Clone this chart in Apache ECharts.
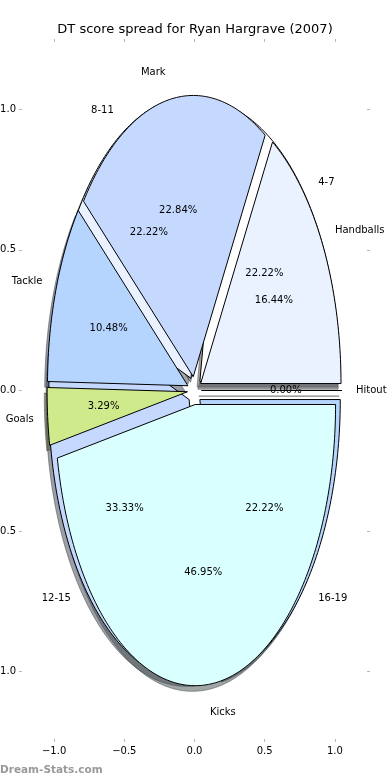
<!DOCTYPE html>
<html><head><meta charset="utf-8">
<script src="https://cdn.jsdelivr.net/npm/echarts@6/dist/echarts.min.js"></script>
<style>html,body{margin:0;padding:0;background:#fff}#c{width:390px;height:780px}</style>
</head><body><div id="c"></div>
<script>
// ---- data ----
const titleText = 'DT score spread for Ryan Hargrave (2007)';
const statCategories = ['Hitout', 'Handballs', 'Mark', 'Tackle', 'Goals', 'Kicks'];
const statValues = [0.00, 16.44, 22.84, 10.48, 3.29, 46.95];
const rangeCategories = ['4-7', '8-11', '12-15', '16-19'];
const rangeValues = [2, 2, 3, 2];
const tickValues = [-1.0, -0.5, 0.0, 0.5, 1.0];
const watermark = 'Dream-Stats.com';

// ---- style ----
const palette = ['#ffffff', '#eaf1ff', '#c5d9ff', '#b5d5ff', '#cfea8b', '#d9ffff'];
const EXPLODE = 0.05, LABEL_DIST = 1.1, PCT_DIST = 0.6, SHADOW_OFF = -0.02;
const FONT = '"DejaVu Sans", sans-serif';

function buildWedges(cats, vals) {
  const total = vals.reduce((a, b) => a + b, 0);
  let acc = 0;
  return cats.map((c, i) => {
    const f = vals[i] / total;
    const a1 = acc * 2 * Math.PI; acc += f; const a2 = acc * 2 * Math.PI;
    const m = (a1 + a2) / 2;
    return { name: c, pct: (f * 100).toFixed(2) + '%', a1, a2, m,
      dx: EXPLODE * Math.cos(m), dy: EXPLODE * Math.sin(m), color: palette[i % palette.length] };
  });
}
const rangeWedges = buildWedges(rangeCategories, rangeValues);
const statWedges = buildWedges(statCategories, statValues);
const allWedges = rangeWedges.concat(statWedges);

function shadowColor(hex) {
  const r = parseInt(hex.slice(1, 3), 16), g = parseInt(hex.slice(3, 5), 16), b = parseInt(hex.slice(5, 7), 16);
  return 'rgba(' + Math.round(r * 0.3) + ',' + Math.round(g * 0.3) + ',' + Math.round(b * 0.3) + ',0.5)';
}

function wedgePoints(w, ox, oy, api) {
  const cx = w.dx + ox, cy = w.dy + oy;
  const pts = [api.coord([cx, cy])];
  const n = Math.max(2, Math.ceil((w.a2 - w.a1) / (Math.PI / 180)));
  for (let i = 0; i <= n; i++) {
    const a = w.a1 + (w.a2 - w.a1) * i / n;
    pts.push(api.coord([cx + Math.cos(a), cy + Math.sin(a)]));
  }
  return pts;
}

function wedgeSeries(list, z, shadow) {
  return {
    type: 'custom', coordinateSystem: 'cartesian2d', z: z, silent: true, clip: false,
    data: list.map(() => [0, 0]),
    renderItem: function (params, api) {
      const w = list[params.dataIndex];
      if (shadow) {
        const c = shadowColor(w.color);
        return { type: 'polygon', shape: { points: wedgePoints(w, SHADOW_OFF, SHADOW_OFF, api) },
          style: { fill: c, stroke: c, lineWidth: 1 } };
      }
      return { type: 'polygon', shape: { points: wedgePoints(w, 0, 0, api) },
        style: { fill: w.color, stroke: '#000', lineWidth: 1, lineJoin: 'miter' } };
    }
  };
}

const labelItems = [];
allWedges.forEach(w => {
  const lx = w.dx + LABEL_DIST * Math.cos(w.m), ly = w.dy + LABEL_DIST * Math.sin(w.m);
  labelItems.push({ text: w.name, x: lx, y: ly, align: lx < 0 ? 'right' : 'left' });
  const px = w.dx + PCT_DIST * Math.cos(w.m), py = w.dy + PCT_DIST * Math.sin(w.m);
  labelItems.push({ text: w.pct, x: px, y: py, align: 'center' });
});

const labelSeries = {
  type: 'custom', coordinateSystem: 'cartesian2d', z: 10, silent: true, clip: false,
  data: labelItems.map(() => [0, 0]),
  renderItem: function (params, api) {
    const L = labelItems[params.dataIndex];
    const p = api.coord([L.x, L.y]);
    return { type: 'text', x: p[0], y: p[1],
      style: { text: L.text, fill: '#000', font: '10px ' + FONT, align: L.align, verticalAlign: 'middle' } };
  }
};

const fmt = v => (v < 0 ? '\u2212' : '') + Math.abs(v).toFixed(1);
function axis(pos, labels) {
  return {
    type: 'value', min: -1.25, max: 1.25, position: pos,
    axisLine: { show: false, onZero: false },
    splitLine: { show: false },
    axisTick: { show: true, inside: true, length: 3, customValues: tickValues, lineStyle: { color: '#b8b8b8', width: 1 } },
    axisLabel: { show: labels, customValues: tickValues, formatter: fmt, margin: pos === 'bottom' ? 4 : 3,
      fontSize: 10, color: '#000', fontFamily: FONT, hideOverlap: false }
  };
}

const chart = echarts.init(document.getElementById('c'), null, { renderer: 'canvas' });
chart.setOption({
  animation: false,
  backgroundColor: '#fff',
  title: { text: titleText, left: 'center', top: 23, padding: 0,
    textStyle: { fontSize: 13, fontWeight: 'normal', color: '#000', fontFamily: FONT } },
  grid: { left: 19, top: 39, width: 351, height: 703, containLabel: false, outerBoundsMode: 'none' },
  xAxis: [axis('bottom', true), axis('top', false)],
  yAxis: [axis('left', true), axis('right', false)],
  graphic: [{ type: 'text', left: 0, top: 765, silent: true,
    style: { text: watermark, fill: '#999', font: 'bold 10.5px ' + FONT } }],
  series: [
    wedgeSeries(allWedges, 1, true),
    wedgeSeries(rangeWedges, 2, false),
    wedgeSeries(statWedges, 3, false),
    labelSeries
  ]
});
</script></body></html>
